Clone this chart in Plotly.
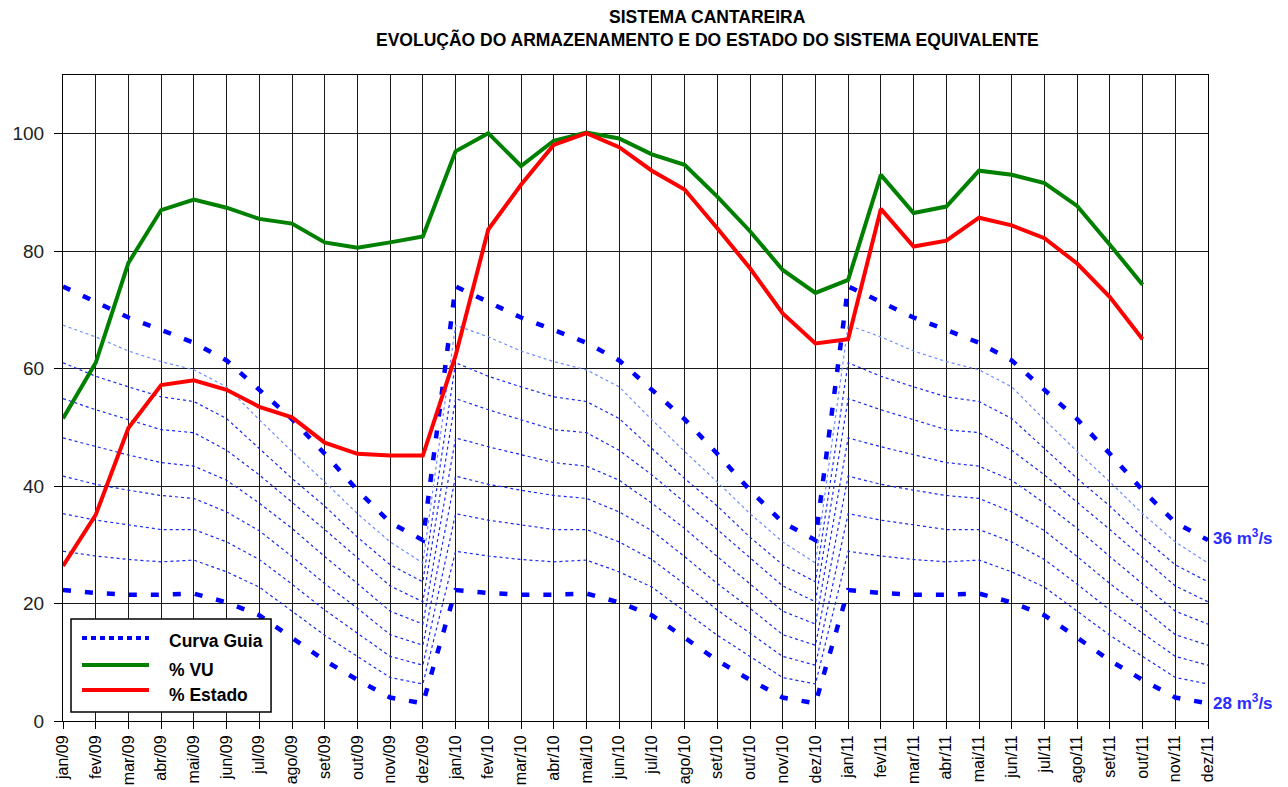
import plotly.graph_objects as go

# ---------------- data ----------------
months = ["jan/09", "fev/09", "mar/09", "abr/09", "mai/09", "jun/09", "jul/09", "ago/09", "set/09", "out/09", "nov/09", "dez/09",
          "jan/10", "fev/10", "mar/10", "abr/10", "mai/10", "jun/10", "jul/10", "ago/10", "set/10", "out/10", "nov/10", "dez/10",
          "jan/11", "fev/11", "mar/11", "abr/11", "mai/11", "jun/11", "jul/11", "ago/11", "set/11", "out/11", "nov/11", "dez/11"]

# % VU (jan/09 .. out/11)
vu = [51.5, 61.0, 78.0, 87.0, 88.8, 87.4, 85.5, 84.7, 81.5, 80.6, 81.5, 82.5,
      97.0, 100.1, 94.5, 98.8, 100.2, 99.2, 96.5, 94.7, 89.3, 83.4, 76.8, 72.9,
      75.1, 93.0, 86.5, 87.6, 93.7, 93.0, 91.6, 87.7, 81.1, 74.3]

# % Estado (jan/09 .. out/11)
estado = [26.4, 35.1, 49.9, 57.2, 58.0, 56.4, 53.5, 51.7, 47.4, 45.5, 45.2, 45.2,
          62.2, 83.7, 91.3, 98.1, 100.1, 97.7, 93.7, 90.5, 83.9, 77.1, 69.4, 64.3,
          65.0, 87.2, 80.8, 81.8, 85.7, 84.4, 82.2, 77.9, 72.2, 65.0]

# Curva Guia: annual guide curves (jan..dez), one per outflow (m3/s)
guia_36 = [74.0, 71.3, 68.7, 66.6, 64.4, 61.4, 56.5, 51.4, 45.5, 39.3, 33.8, 30.8]
guia_35 = [67.4, 65.4, 63.0, 61.2, 59.8, 56.9, 51.3, 45.9, 40.7, 35.3, 30.5, 26.9]
guia_34 = [61.0, 58.7, 56.9, 55.2, 54.4, 51.5, 46.4, 41.3, 36.6, 31.3, 26.6, 23.7]
guia_33 = [54.9, 53.0, 51.3, 49.6, 49.1, 46.1, 41.9, 37.3, 32.6, 27.8, 23.0, 20.3]
guia_32 = [48.2, 46.7, 45.3, 44.0, 43.4, 41.0, 37.1, 32.8, 28.0, 23.4, 18.7, 16.5]
guia_31 = [41.7, 40.3, 39.3, 38.4, 37.9, 35.6, 32.4, 28.0, 23.4, 19.2, 14.7, 12.9]
guia_30 = [35.3, 34.2, 33.4, 32.6, 32.6, 30.5, 27.5, 23.3, 18.9, 15.0, 11.0, 9.5]
guia_29 = [28.9, 28.1, 27.5, 27.1, 27.4, 25.4, 22.8, 18.7, 14.6, 11.0, 7.4, 6.3]
guia_28 = [22.3, 21.8, 21.5, 21.5, 21.7, 20.2, 18.0, 14.2, 10.3, 7.0, 4.0, 3.0]

guide_curves = [(36, guia_36), (35, guia_35), (34, guia_34), (33, guia_33), (32, guia_32),
                (31, guia_31), (30, guia_30), (29, guia_29), (28, guia_28)]

title_lines = ["SISTEMA CANTAREIRA", "EVOLUÇÃO DO ARMAZENAMENTO E DO ESTADO DO SISTEMA EQUIVALENTE"]
y_ticks = [0, 20, 40, 60, 80, 100]

# ---------------- figure ----------------
FONT = "Liberation Sans, Arial, sans-serif"
fig = go.Figure()

n_years = 3
for flow, vals in guide_curves:
    yv = vals * n_years
    if flow in (28, 36):
        line = dict(color="#0000ff", width=4.5, dash="8px,14px")
    elif flow == 35:
        line = dict(color="#6f8dff", width=1.2, dash="3px,3px")
    else:
        line = dict(color="#1a2af0", width=1.2, dash="3px,3px")
    fig.add_trace(go.Scatter(x=months, y=yv, mode="lines", line=line,
                             name="Curva Guia" if flow == 36 else f"{flow} m³/s",
                             showlegend=False, hoverinfo="skip"))

fig.add_trace(go.Scatter(x=months[:len(vu)], y=vu, mode="lines", name="% VU",
                         line=dict(color="#008000", width=4), showlegend=False))
fig.add_trace(go.Scatter(x=months[:len(estado)], y=estado, mode="lines", name="% Estado",
                         line=dict(color="#ff0000", width=4), showlegend=False))

# manual legend (box, samples, labels)
shapes = [dict(type="rect", xref="paper", yref="paper", x0=0.007, x1=0.1817, y0=0.0139, y1=0.158,
               line=dict(color="#000000", width=1.5), fillcolor="white", layer="above")]
legend_items = [("Curva Guia", dict(color="#0000ff", width=4, dash="5px,4px"), 0.1285, 0.124),
                ("% VU", dict(color="#008000", width=4), 0.0867, 0.079),
                ("% Estado", dict(color="#ff0000", width=4), 0.048, 0.040)]
annotations = []
for label, ln, ly, ty in legend_items:
    shapes.append(dict(type="line", xref="paper", yref="paper", x0=0.0166, x1=0.0751, y0=ly, y1=ly,
                       line=ln, layer="above"))
    annotations.append(dict(xref="paper", yref="paper", x=0.0908, y=ty, text=label, showarrow=False,
                            xanchor="left", yanchor="middle",
                            font=dict(family=FONT, size=17.5, color="black", weight="bold")))

# flow labels on the right
for txt, yval in [("36 m<sup>3</sup>/s", 31.4), ("28 m<sup>3</sup>/s", 3.3)]:
    annotations.append(dict(xref="paper", yref="y", x=1.003, y=yval, text=txt, showarrow=False,
                            xanchor="left", yanchor="middle",
                            font=dict(family=FONT, size=17, color="#2b2bff", weight="bold")))

# title (two centred lines)
for txt, ty in zip(title_lines, [1.0898, 1.0542]):
    annotations.append(dict(xref="paper", yref="paper", x=(707 - 63) / 1145, y=ty, text=txt,
                            showarrow=False, xanchor="center", yanchor="middle",
                            font=dict(family=FONT, size=17.5, color="black", weight="bold")))

fig.update_layout(
    width=1288, height=787,
    margin=dict(l=63, r=80, t=75, b=66),
    paper_bgcolor="white", plot_bgcolor="white",
    shapes=shapes, annotations=annotations,
    showlegend=False,
)
fig.update_xaxes(type="category", categoryorder="array", categoryarray=months,
                 range=[0, len(months) - 1], tickmode="array", tickvals=months, ticktext=months,
                 tickangle=-90, ticks="outside", ticklen=7, tickcolor="black", automargin=False,
                 showgrid=True, gridcolor="#1a1a1a", gridwidth=1,
                 showline=True, linecolor="black", linewidth=1, mirror=True,
                 tickfont=dict(family=FONT, size=16, color="black"))
fig.update_yaxes(range=[0, 110], tickmode="array", tickvals=y_ticks, automargin=False,
                 ticks="outside", ticklen=8, tickcolor="black", ticklabelstandoff=6,
                 showgrid=True, gridcolor="#1a1a1a", gridwidth=1, zeroline=False,
                 showline=True, linecolor="black", linewidth=1, mirror=True,
                 tickfont=dict(family=FONT, size=19, color="#222"))

fig.write_html("out.html", config={"displayModeBar": False},
               post_script="document.body.style.margin='0';document.body.style.overflow='hidden';")
